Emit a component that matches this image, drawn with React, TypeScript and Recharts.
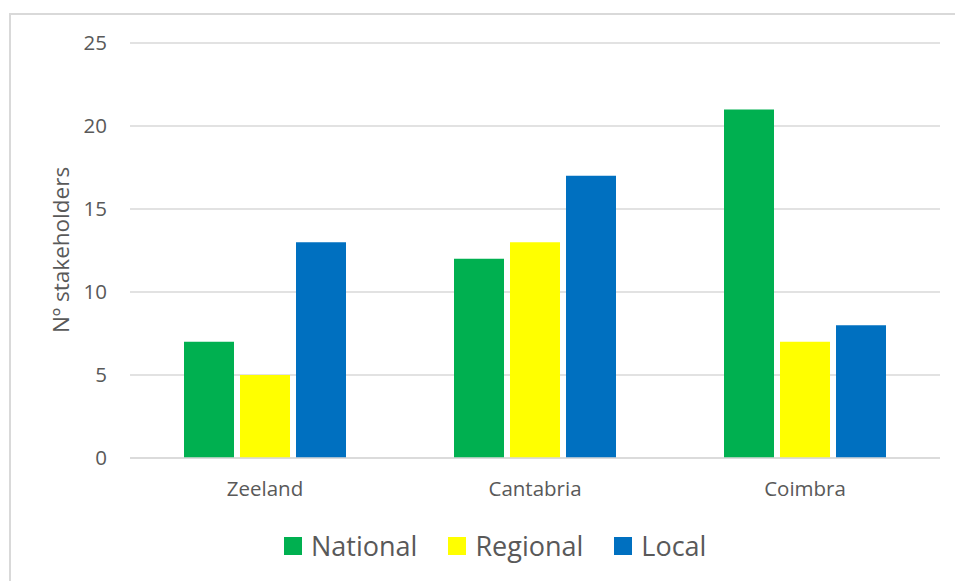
import React from 'react';
import { BarChart, Bar, XAxis, YAxis, CartesianGrid } from 'recharts';

const categories = ['Zeeland', 'Cantabria', 'Coimbra'];
const nationalValues = [7, 12, 21];
const regionalValues = [5, 13, 7];
const localValues = [13, 17, 8];
const yTicks = [0, 5, 10, 15, 20, 25];
const seriesNames = ['National', 'Regional', 'Local'];
const seriesColors = ['#00B050', '#FFFF00', '#0070C0'];
const seriesKeys = ['national', 'regional', 'local'];

const data = categories.map((c, i) => ({
  name: c,
  national: nationalValues[i],
  regional: regionalValues[i],
  local: localValues[i],
}));

const FONT = '"Open Sans", sans-serif';
const TEXT = '#595959';

const YLabel = () => (
  <text
    x={60}
    y={250}
    transform="rotate(-90 60 250)"
    textAnchor="middle"
    dominantBaseline="central"
    fill={TEXT}
    fontSize={22.5}
    fontFamily={FONT}
  >
    Nº stakeholders
  </text>
);

export default function App() {
  return (
    <div style={{ position: 'absolute', left: 0, top: 0, width: 955, height: 581, overflow: 'hidden', background: '#fff' }}>
      <div
        style={{
          position: 'absolute',
          left: 9,
          top: 13,
          width: 1000,
          height: 1000,
          border: '2px solid #d9d9d9',
          boxSizing: 'border-box',
        }}
      />
      <div style={{ position: 'absolute', left: 0, top: 0 }}>
        <BarChart
          width={955}
          height={581}
          data={data}
          margin={{ top: 43, right: 15, bottom: 0, left: 0 }}
          barCategoryGap="20%"
          barGap={6}
        >
          <CartesianGrid vertical={false} stroke="#d9d9d9" strokeWidth={1.5} />
          <XAxis
            dataKey="name"
            height={123}
            axisLine={{ stroke: '#d9d9d9', strokeWidth: 1.5 }}
            tickLine={false}
            tickMargin={17}
            tick={{ fill: TEXT, fontSize: 20.5, fontFamily: FONT }}
          />
          <YAxis
            width={130}
            domain={[0, 25]}
            ticks={yTicks}
            axisLine={false}
            tickLine={false}
            tickMargin={17}
            tick={{ fill: TEXT, fontSize: 20.5, fontFamily: FONT }}
            label={<YLabel />}
          />
          {seriesKeys.map((k, i) => (
            <Bar key={k} dataKey={k} name={seriesNames[i]} fill={seriesColors[i]} isAnimationActive={false} />
          ))}
        </BarChart>
      </div>
      <div
        style={{
          position: 'absolute',
          left: 284,
          top: 528,
          display: 'flex',
          alignItems: 'center',
          fontFamily: FONT,
          fontSize: 27,
          color: TEXT,
          whiteSpace: 'nowrap',
        }}
      >
        {seriesNames.map((n, i) => (
          <div key={n} style={{ display: 'flex', alignItems: 'center', marginRight: i < seriesNames.length - 1 ? 31 : 0 }}>
            <span style={{ display: 'inline-block', width: 18, height: 18, background: seriesColors[i], marginRight: 9 }} />
            <span style={{ lineHeight: '36px' }}>{n}</span>
          </div>
        ))}
      </div>
    </div>
  );
}
